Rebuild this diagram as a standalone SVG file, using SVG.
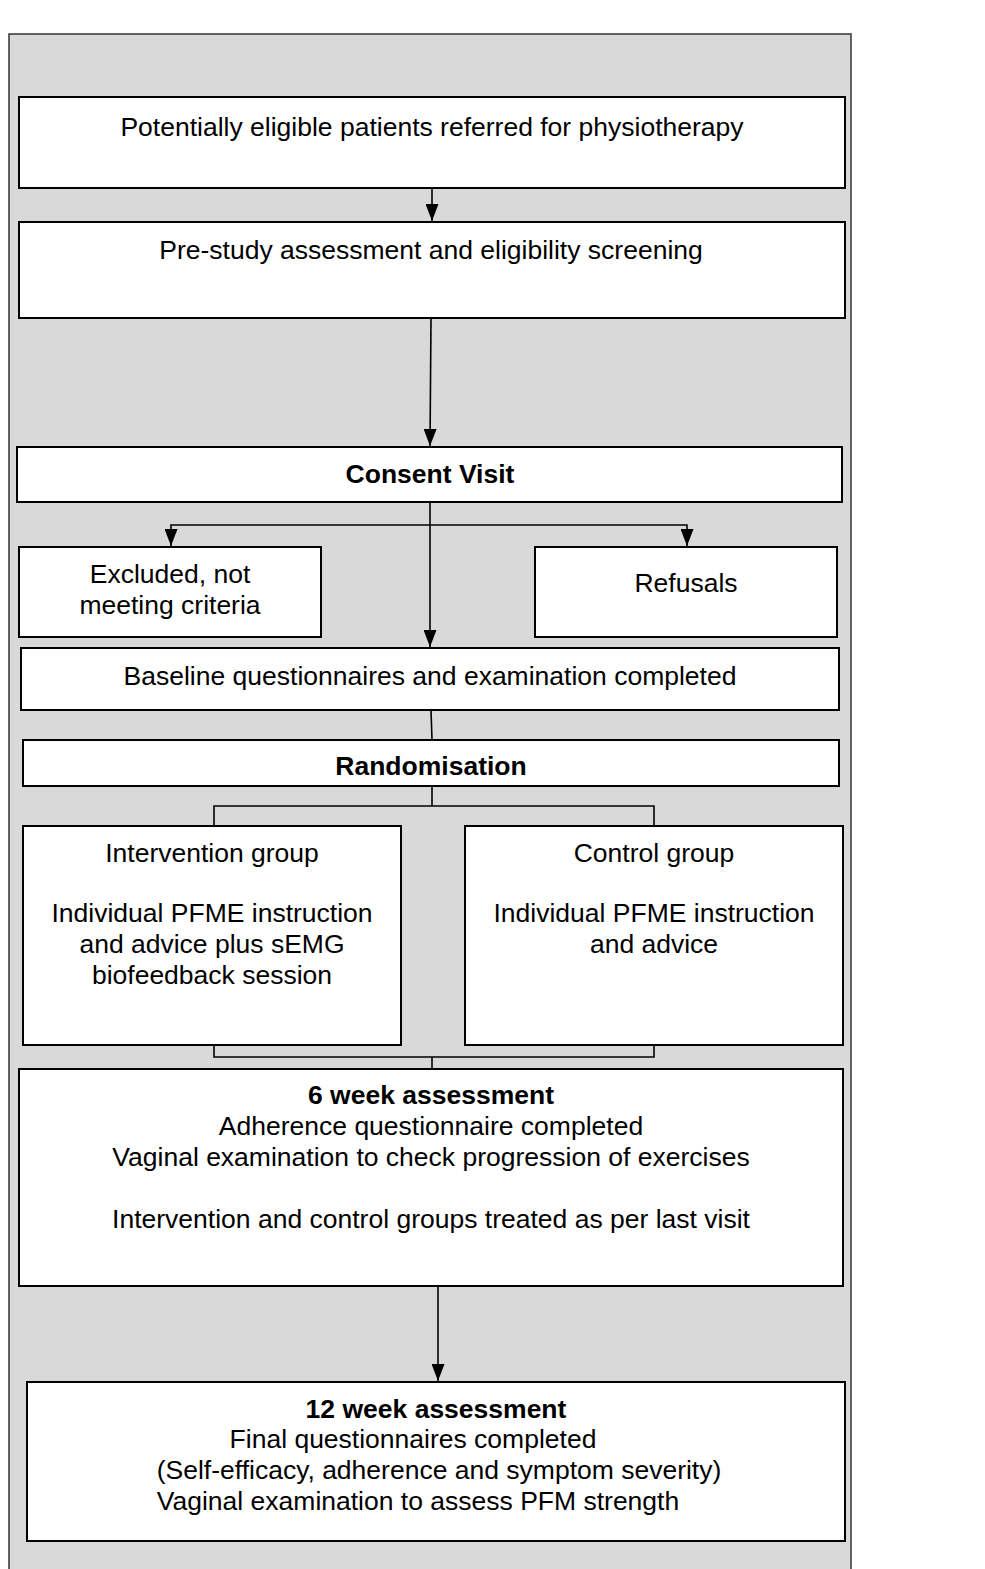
<svg xmlns="http://www.w3.org/2000/svg" width="985" height="1569" viewBox="0 0 985 1569">
<style>
.box{fill:#fff;stroke:#000;stroke-width:2}
.t{font-family:"Liberation Sans",Arial,sans-serif;font-size:26.5px;fill:#000;text-anchor:middle}
.b{font-weight:bold}
.c{fill:none;stroke:#000;stroke-width:1.6}
</style>
<defs>
<marker id="ah" viewBox="0 0 17 13" refX="17" refY="6.5" markerWidth="17" markerHeight="13" markerUnits="userSpaceOnUse" orient="auto">
<path d="M0,0 L17,6.5 L0,13 Z" fill="#000"/>
</marker>
</defs>
<rect x="9" y="34" width="842" height="1560" fill="#d9d9d9" stroke="#333" stroke-width="1.5"/>
<g id="connectors">
<line class="c" x1="432" y1="188" x2="432" y2="221" marker-end="url(#ah)"/>
<line class="c" x1="431" y1="318" x2="430" y2="446" marker-end="url(#ah)"/>
<line class="c" x1="430" y1="502" x2="430" y2="647" marker-end="url(#ah)"/>
<polyline class="c" points="430,525 171,525 171,546" marker-end="url(#ah)"/>
<polyline class="c" points="430,525 687,525 687,546" marker-end="url(#ah)"/>
<line class="c" x1="431" y1="710" x2="432" y2="740"/>
<line class="c" x1="432" y1="786" x2="432" y2="806"/>
<polyline class="c" points="214,826 214,806 654,806 654,826"/>
<polyline class="c" points="214,1045 214,1057 654,1057 654,1045"/>
<line class="c" x1="432" y1="1057" x2="432" y2="1069"/>
<line class="c" x1="438" y1="1286" x2="438" y2="1381" marker-end="url(#ah)"/>
</g>
<g id="n1"><rect class="box" x="19" y="97" width="826" height="91"/>
<text class="t" x="432" y="136">Potentially eligible patients referred for physiotherapy</text></g>
<g id="n2"><rect class="box" x="19" y="222" width="826" height="96"/>
<text class="t" x="431" y="259">Pre-study assessment and eligibility screening</text></g>
<g id="n3"><rect class="box" x="17" y="447" width="825" height="55"/>
<text class="t b" x="430" y="483">Consent Visit</text></g>
<g id="n4"><rect class="box" x="19" y="547" width="302" height="90"/>
<text class="t" x="170" y="583">Excluded, not</text>
<text class="t" x="170" y="614">meeting criteria</text></g>
<g id="n5"><rect class="box" x="535" y="547" width="302" height="90"/>
<text class="t" x="686" y="592">Refusals</text></g>
<g id="n6"><rect class="box" x="21" y="648" width="818" height="62"/>
<text class="t" x="430" y="685">Baseline questionnaires and examination completed</text></g>
<g id="n7"><rect class="box" x="23" y="740" width="816" height="46"/>
<text class="t b" x="431" y="775">Randomisation</text></g>
<g id="n8"><rect class="box" x="23" y="826" width="378" height="219"/>
<text class="t" x="212" y="862">Intervention group</text>
<text class="t" x="212" y="922">Individual PFME instruction</text>
<text class="t" x="212" y="953">and advice plus sEMG</text>
<text class="t" x="212" y="984">biofeedback session</text></g>
<g id="n9"><rect class="box" x="465" y="826" width="378" height="219"/>
<text class="t" x="654" y="862">Control group</text>
<text class="t" x="654" y="922">Individual PFME instruction</text>
<text class="t" x="654" y="953">and advice</text></g>
<g id="n10"><rect class="box" x="19" y="1069" width="824" height="217"/>
<text class="t b" x="431" y="1104">6 week assessment</text>
<text class="t" x="431" y="1135">Adherence questionnaire completed</text>
<text class="t" x="431" y="1166">Vaginal examination to check progression of exercises</text>
<text class="t" x="431" y="1228">Intervention and control groups treated as per last visit</text></g>
<g id="n11"><rect class="box" x="27" y="1382" width="818" height="159"/>
<text class="t b" x="436" y="1418">12 week assessment</text>
<text class="t" x="413" y="1448">Final questionnaires completed</text>
<text class="t" x="439" y="1479">(Self-efficacy, adherence and symptom severity)</text>
<text class="t" x="418" y="1510">Vaginal examination to assess PFM strength</text></g>
</svg>
